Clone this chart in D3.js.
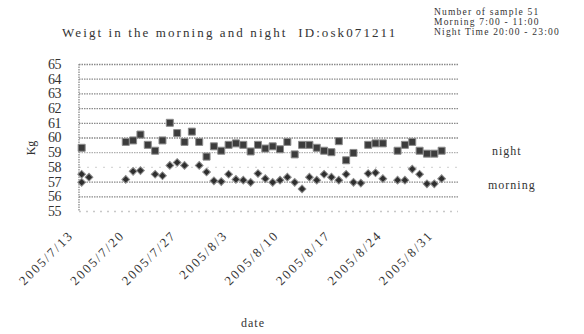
<!DOCTYPE html>
<html>
<head>
<meta charset="utf-8">
<script src="https://cdn.jsdelivr.net/npm/d3@7"></script>
<style>
  body { margin: 0; background: #fff; }
  text { font-family: "Liberation Serif", "DejaVu Serif", serif; fill: #333; }
</style>
</head>
<body>
<div id="chart"></div>
<script>
const nightDates = ["2005/7/13","2005/7/19","2005/7/20","2005/7/21","2005/7/22","2005/7/23","2005/7/24","2005/7/25","2005/7/26","2005/7/27","2005/7/28","2005/7/29","2005/7/30","2005/7/31","2005/8/1","2005/8/2","2005/8/3","2005/8/4","2005/8/5","2005/8/6","2005/8/7","2005/8/8","2005/8/9","2005/8/10","2005/8/11","2005/8/12","2005/8/13","2005/8/14","2005/8/15","2005/8/16","2005/8/17","2005/8/18","2005/8/19","2005/8/21","2005/8/22","2005/8/23","2005/8/25","2005/8/26","2005/8/27","2005/8/28","2005/8/29","2005/8/30","2005/8/31"];
const nightKg = [59.3,59.7,59.8,60.2,59.5,59.1,59.8,61.0,60.3,59.7,60.4,59.7,58.7,59.4,59.1,59.5,59.6,59.5,59.05,59.5,59.25,59.4,59.2,59.7,58.85,59.5,59.5,59.3,59.1,59.0,59.75,58.45,58.95,59.5,59.6,59.6,59.1,59.5,59.7,59.1,58.9,58.9,59.1];

const morningDates = ["2005/7/13","2005/7/13","2005/7/14","2005/7/19","2005/7/20","2005/7/21","2005/7/23","2005/7/24","2005/7/25","2005/7/26","2005/7/27","2005/7/29","2005/7/30","2005/7/31","2005/8/1","2005/8/2","2005/8/3","2005/8/4","2005/8/5","2005/8/6","2005/8/7","2005/8/8","2005/8/9","2005/8/10","2005/8/11","2005/8/12","2005/8/13","2005/8/14","2005/8/15","2005/8/16","2005/8/17","2005/8/18","2005/8/19","2005/8/20","2005/8/21","2005/8/22","2005/8/23","2005/8/25","2005/8/26","2005/8/27","2005/8/28","2005/8/29","2005/8/30","2005/8/31"];
const morningKg = [57.5,56.95,57.3,57.15,57.7,57.75,57.5,57.4,58.1,58.3,58.1,58.1,57.65,57.05,57.0,57.5,57.15,57.1,56.95,57.55,57.2,56.95,57.1,57.3,56.95,56.5,57.3,57.1,57.5,57.3,57.1,57.5,56.95,56.9,57.55,57.6,57.2,57.1,57.1,57.85,57.5,56.85,56.85,57.2];

const xTickLabels = ["2005/7/13","2005/7/20","2005/7/27","2005/8/3","2005/8/10","2005/8/17","2005/8/24","2005/8/31"];
const yTickLabels = [55,56,57,58,59,60,61,62,63,64,65];
const noteLines = ["Number of sample 51","Morning 7:00 - 11:00","Night Time 20:00 - 23:00"];

const width = 584, height = 334;
const parse = d3.timeParse("%Y/%m/%d");
const halfDay = 12 * 3600 * 1000;

const svg = d3.select("#chart").append("svg")
    .attr("width", width).attr("height", height);

const x = d3.scaleTime()
    .domain([new Date(parse("2005/7/12").getTime() + halfDay), new Date(parse("2005/9/2").getTime() + halfDay)])
    .range([78, 460]);
const y = d3.scaleLinear().domain([55, 65]).range([211, 64]);

// gridlines
svg.append("g")
    .attr("transform", "translate(79,0)")
    .call(d3.axisLeft(y).tickValues(yTickLabels).tickSize(-379).tickFormat(""))
    .call(g => g.select(".domain").remove())
    .call(g => g.selectAll("line")
        .attr("stroke", d => d == 55 ? "#c8c8c8" : (d == 58 ? "#d8d8d8" : (d == 59 ? "#b0b0b0" : "#8a8a8a")))
        .attr("stroke-width", 1.3)
        .attr("stroke-dasharray", d => d == 55 ? "2,5" : (d == 58 ? "2,6" : "1.5,1")));

// left axis line
svg.append("line")
    .attr("x1", 79).attr("x2", 79).attr("y1", y(65)).attr("y2", y(55))
    .attr("stroke", "#8a8a8a").attr("stroke-width", 1.3).attr("stroke-dasharray", "1.5,1");

// y labels
svg.append("g")
    .attr("transform", "translate(61,0)")
    .call(d3.axisLeft(y).tickValues(yTickLabels).tickSize(0).tickPadding(0))
    .call(g => g.select(".domain").remove())
    .call(g => g.selectAll("text")
        .attr("font-family", "'Liberation Serif', serif")
        .attr("font-size", 14).attr("letter-spacing", -0.5).attr("fill", "#444"));

// x labels
svg.append("g")
    .attr("transform", "translate(0,236)")
    .call(d3.axisBottom(x).tickValues(xTickLabels.map(parse)).tickSize(0)
        .tickFormat(d3.timeFormat("%Y/%-m/%-d")))
    .call(g => g.select(".domain").remove())
    .call(g => g.selectAll("text")
        .attr("text-anchor", "end")
        .attr("dy", 0).attr("y", 0)
        .attr("transform", "translate(-8,0) rotate(-45)")
        .attr("font-size", 13).attr("letter-spacing", 2).attr("fill", "#444"));

// night squares
svg.append("g").selectAll("path")
    .data(nightDates.map((d, i) => ({date: parse(d), kg: nightKg[i]})))
    .join("path")
    .attr("d", d3.symbol().type(d3.symbolSquare).size(49))
    .attr("transform", d => "translate(" + x(d.date) + "," + y(d.kg) + ")")
    .attr("fill", "#3c3c3c").attr("stroke", "#8c8c8c").attr("stroke-width", 1);

// morning diamonds
svg.append("g").selectAll("path")
    .data(morningDates.map((d, i) => ({date: parse(d), kg: morningKg[i]})))
    .join("path")
    .attr("d", d3.symbol().type(d3.symbolSquare).size(30))
    .attr("transform", d => "translate(" + x(d.date) + "," + y(d.kg) + ") rotate(45)")
    .attr("fill", "#2e2e2e").attr("stroke", "#8c8c8c").attr("stroke-width", 1);

// titles
svg.append("text")
    .attr("x", 62).attr("y", 37)
    .style("white-space", "pre")
    .attr("font-size", 13).attr("letter-spacing", 2.1).attr("fill", "#444")
    .text("Weigt in the morning and night  ID:osk071211");

svg.append("text")
    .attr("transform", "translate(35,148) rotate(-90)")
    .attr("text-anchor", "middle")
    .attr("font-size", 12).attr("fill", "#444")
    .text("Kg");

svg.append("text")
    .attr("x", 253).attr("y", 327)
    .attr("text-anchor", "middle")
    .attr("font-size", 12).attr("letter-spacing", 1).attr("fill", "#444")
    .text("date");

svg.append("g").selectAll("text")
    .data(noteLines)
    .join("text")
    .attr("x", 434).attr("y", (d, i) => 15 + i * 10)
    .attr("font-size", 9.5).attr("letter-spacing", 1.2).attr("fill", "#444")
    .text(d => d);

// legend
const legend = ["night", "morning"];
svg.append("g").selectAll("text")
    .data(legend)
    .join("text")
    .attr("x", d => d == "night" ? 492 : 488)
    .attr("y", d => d == "night" ? y(59.1) + 4 : y(56.8) + 4)
    .attr("font-size", 12).attr("letter-spacing", 1).attr("fill", "#444")
    .text(d => d);
</script>
</body>
</html>
